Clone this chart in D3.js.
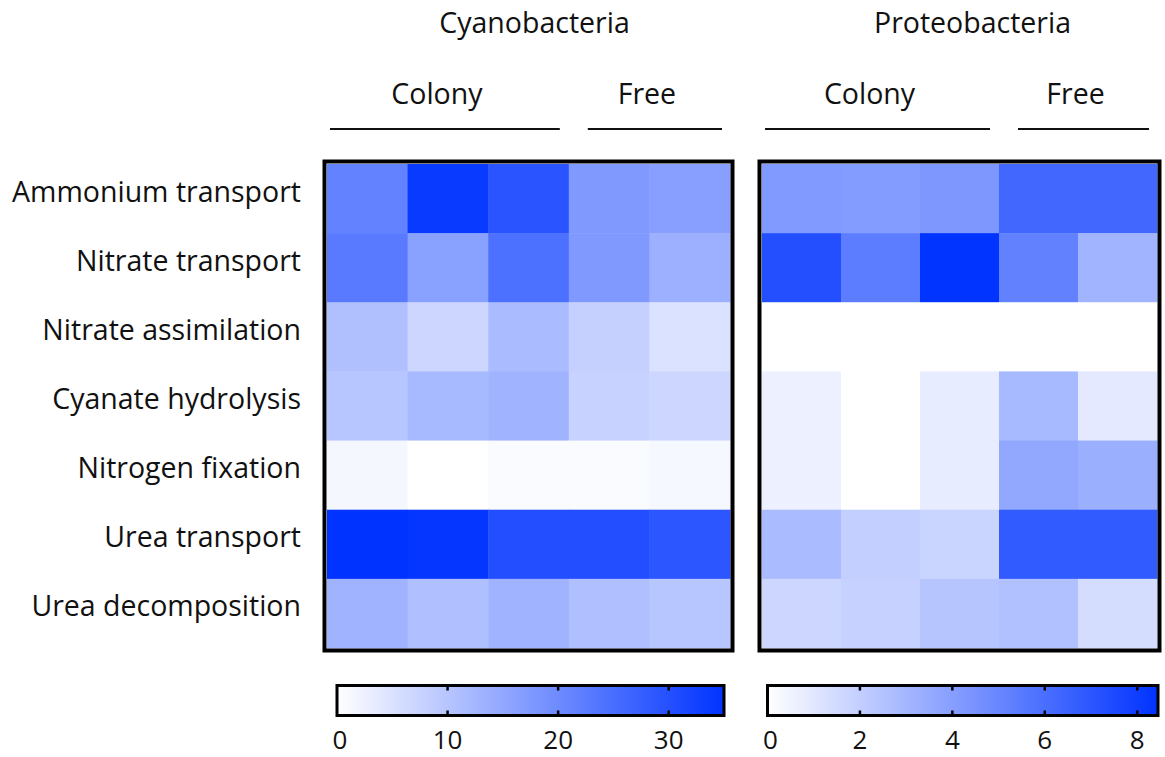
<!DOCTYPE html>
<html>
<head>
<meta charset="utf-8">
<script src="https://cdn.jsdelivr.net/npm/d3@7/dist/d3.min.js"></script>
<style>
  html, body { margin: 0; padding: 0; background: #fff; }
  svg { display: block; }
  text { font-family: "Open Sans", "Noto Sans", sans-serif; fill: #111; }
</style>
</head>
<body>
<svg id="chart" width="1165" height="757"></svg>
<script>
// Nitrogen-metabolism gene categories (rows)
const rowLabels = [
  "Ammonium transport",
  "Nitrate transport",
  "Nitrate assimilation",
  "Cyanate hydrolysis",
  "Nitrogen fixation",
  "Urea transport",
  "Urea decomposition"
];

// Sample columns: three colony samples, two free-living samples
const sampleIds = ["C1", "C2", "C3", "F1", "F2"];
const sampleGroups = ["Colony", "Colony", "Colony", "Free", "Free"];
const subgroupNames = ["Colony", "Free"];

// Cyanobacteria values (rows x samples)
const cyanoValues = [
  [21.5, 33.8, 29.4, 17.5, 16.4],
  [22.8, 16.2, 24.6, 17.5, 13.6],
  [10.8,  7.0, 11.6,  8.0,  4.9],
  [ 9.8, 11.9, 13.0,  7.7,  7.0],
  [ 1.4,  0.0,  0.7,  0.7,  1.2],
  [35.0, 34.5, 30.4, 30.4, 29.0],
  [13.0, 10.9, 13.0, 10.9,  9.8]
];

// Proteobacteria values (rows x samples)
const proteoValues = [
  [4.2, 4.1, 4.3, 6.3, 6.3],
  [7.3, 5.4, 8.4, 5.2, 3.1],
  [0.0, 0.0, 0.0, 0.0, 0.0],
  [0.6, 0.0, 0.8, 2.9, 0.9],
  [0.6, 0.0, 0.8, 3.6, 3.3],
  [2.8, 2.0, 1.8, 6.8, 6.8],
  [1.7, 1.9, 2.4, 2.6, 1.4]
];

// Colour-scale extents and tick labels
const cyanoDomain = [0, 35];
const proteoDomain = [0, 8.45];
const cyanoTicks = [0, 10, 20, 30];
const proteoTicks = [0, 2, 4, 6, 8];

const lowColor = "#ffffff";
const highColor = "#0033ff";
const labelSize = 28.5;

const svg = d3.select("#chart");

const gridTop = 164, gridBottom = 648;
const panels = [
  { title: "Cyanobacteria", values: cyanoValues, domain: cyanoDomain, ticks: cyanoTicks,
    x0: 327, x1: 730, bar: [337, 724], titleShift: 6 },
  { title: "Proteobacteria", values: proteoValues, domain: proteoDomain, ticks: proteoTicks,
    x0: 762, x1: 1157, bar: [767.5, 1158], titleShift: 13 }
];

const y = d3.scaleBand().domain(rowLabels).range([gridTop, gridBottom]).padding(0);

// Row labels
svg.append("g").selectAll("text")
  .data(rowLabels)
  .join("text")
  .attr("x", 301)
  .attr("y", d => y(d) + y.bandwidth() / 2 + 3)
  .attr("text-anchor", "end")
  .attr("font-size", labelSize)
  .text(d => d);

panels.forEach(p => {
  const x = d3.scaleBand().domain(sampleIds).range([p.x0, p.x1]).padding(0);
  const color = d3.scaleLinear().domain(p.domain).range([lowColor, highColor])
    .interpolate(d3.interpolateRgb).clamp(true);

  const g = svg.append("g");

  // Cells
  const cells = [];
  p.values.forEach((row, i) => row.forEach((v, j) => cells.push({ r: rowLabels[i], c: sampleIds[j], v })));
  g.selectAll("rect.cell")
    .data(cells)
    .join("rect")
    .attr("class", "cell")
    .attr("x", d => x(d.c))
    .attr("y", d => y(d.r))
    .attr("width", x.bandwidth() + 0.5)
    .attr("height", y.bandwidth() + 0.5)
    .attr("fill", d => color(d.v));

  // Panel frame
  g.append("rect")
    .attr("x", p.x0 - 2.5).attr("y", gridTop - 2.5)
    .attr("width", p.x1 - p.x0 + 5).attr("height", gridBottom - gridTop + 5)
    .attr("fill", "none").attr("stroke", "#000").attr("stroke-width", 4);

  // Group title
  svg.append("text")
    .attr("x", (p.x0 + p.x1) / 2 + p.titleShift)
    .attr("y", 33)
    .attr("text-anchor", "middle")
    .attr("font-size", labelSize)
    .text(p.title);

  // Subgroup brackets and labels
  subgroupNames.forEach((name, k) => {
    const cols = sampleIds.filter((_, j) => sampleGroups[j] === name);
    const gx0 = x(cols[0]);
    const gx1 = x(cols[cols.length - 1]) + x.bandwidth();
    const lx0 = gx0 + (k === 0 ? 3 : 19);
    const lx1 = gx1 - (k === 0 ? 9 : 8);
    svg.append("line")
      .attr("x1", lx0).attr("x2", lx1)
      .attr("y1", 129).attr("y2", 129)
      .attr("stroke", "#111").attr("stroke-width", 2.2);
    svg.append("text")
      .attr("x", (lx0 + lx1) / 2 - 8)
      .attr("y", 104)
      .attr("text-anchor", "middle")
      .attr("font-size", labelSize)
      .text(name);
  });

  // Colour bar
  const bx = d3.scaleLinear().domain(p.domain).range(p.bar);
  const gradId = "grad-" + p.title;
  const grad = svg.append("defs").append("linearGradient")
    .attr("id", gradId).attr("x1", "0%").attr("x2", "100%");
  grad.selectAll("stop")
    .data(d3.range(0, 1.0001, 0.1))
    .join("stop")
    .attr("offset", d => (d * 100) + "%")
    .attr("stop-color", d => color(p.domain[0] + d * (p.domain[1] - p.domain[0])));

  const by0 = 685.5, by1 = 715.5;
  const cb = svg.append("g");
  cb.append("rect")
    .attr("x", p.bar[0]).attr("y", by0)
    .attr("width", p.bar[1] - p.bar[0]).attr("height", by1 - by0)
    .attr("fill", `url(#${gradId})`)
    .attr("stroke", "#000").attr("stroke-width", 3);

  // Tick marks inside the bar (top and bottom edges)
  const inner = p.ticks.filter(t => bx(t) > p.bar[0] + 2 && bx(t) < p.bar[1] - 2);
  cb.selectAll("line.tt").data(inner).join("line")
    .attr("class", "tt")
    .attr("x1", d => bx(d)).attr("x2", d => bx(d))
    .attr("y1", by0).attr("y2", by0 + 5)
    .attr("stroke", "#000").attr("stroke-width", 2.5);
  cb.selectAll("line.tb").data(inner).join("line")
    .attr("class", "tb")
    .attr("x1", d => bx(d)).attr("x2", d => bx(d))
    .attr("y1", by1 - 5).attr("y2", by1)
    .attr("stroke", "#000").attr("stroke-width", 2.5);

  // Tick labels
  cb.selectAll("text").data(p.ticks).join("text")
    .attr("x", d => Math.max(bx(d), p.bar[0] + 3))
    .attr("y", 749)
    .attr("text-anchor", "middle")
    .attr("font-size", 26)
    .text(d => d);
});
</script>
</body>
</html>
